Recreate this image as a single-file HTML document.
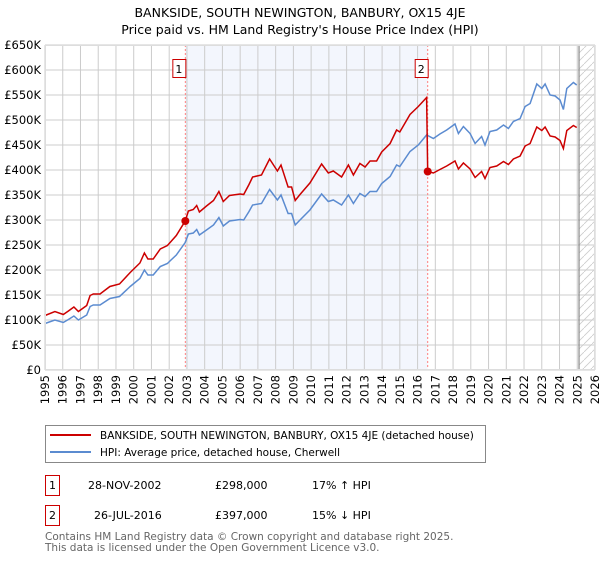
<!DOCTYPE html>
<html><head><meta charset="utf-8"><style>
body{margin:0;background:#fff;font-family:"DejaVu Sans","Liberation Sans",sans-serif;}
svg text{font-family:"DejaVu Sans","Liberation Sans",sans-serif;}
</style></head><body>
<svg id="chart" width="600" height="560" viewBox="0 0 600 560" xmlns="http://www.w3.org/2000/svg">
<defs><pattern id="hatch" width="8" height="8" patternUnits="userSpaceOnUse"><path d="M0 8 L8 0" stroke="#ccc" stroke-width="0.8"/></pattern></defs>
<text x="300" y="17" text-anchor="middle" font-size="12.5">BANKSIDE, SOUTH NEWINGTON, BANBURY, OX15 4JE</text>
<text x="300" y="34" text-anchor="middle" font-size="12.5">Price paid vs. HM Land Registry's House Price Index (HPI)</text>
<g id="plot"></g>
<rect x="45.5" y="425.5" width="440" height="37" fill="#fff" stroke="#888"/>
<line x1="50" y1="435" x2="91" y2="435" stroke="#cc0000" stroke-width="2"/>
<text x="100" y="439" font-size="10.5">BANKSIDE, SOUTH NEWINGTON, BANBURY, OX15 4JE (detached house)</text>
<line x1="50" y1="452" x2="91" y2="452" stroke="#5b8bd0" stroke-width="2"/>
<text x="100" y="456" font-size="10.5">HPI: Average price, detached house, Cherwell</text>
<g font-size="11">
<rect x="45.5" y="475.5" width="14" height="20" fill="#fff" stroke="#cc0000"/>
<text x="52.5" y="489" text-anchor="middle">1</text>
<text x="88" y="489">28-NOV-2002</text>
<text x="215" y="489">£298,000</text>
<text x="312" y="489">17% ↑ HPI</text>
</g>
<g font-size="11">
<rect x="45.5" y="505.5" width="14" height="20" fill="#fff" stroke="#cc0000"/>
<text x="52.5" y="519" text-anchor="middle">2</text>
<text x="94" y="519">26-JUL-2016</text>
<text x="215" y="519">£397,000</text>
<text x="312" y="519">15% ↓ HPI</text>
</g>
<text x="45" y="540" font-size="10.5" fill="#666">Contains HM Land Registry data © Crown copyright and database right 2025.</text>
<text x="45" y="551" font-size="10.5" fill="#666">This data is licensed under the Open Government Licence v3.0.</text>
</svg>
<script>
const hpiYears=[1995.0,1995.56,1996.03,1996.32,1996.63,1996.88,1997.35,1997.54,1997.72,1998.1,1998.66,1999.2,1999.8,2000.35,2000.6,2000.8,2001.1,2001.5,2001.9,2002.1,2002.4,2002.9,2003.08,2003.36,2003.55,2003.7,2004.1,2004.5,2004.8,2005.05,2005.4,2006.0,2006.2,2006.5,2006.7,2007.2,2007.66,2008.1,2008.3,2008.7,2008.9,2009.1,2009.37,2009.93,2010.59,2010.97,2011.25,2011.72,2012.1,2012.38,2012.75,2013.04,2013.32,2013.69,2013.98,2014.45,2014.82,2015.0,2015.57,2016.04,2016.51,2016.89,2017.26,2017.64,2018.11,2018.3,2018.58,2018.96,2019.24,2019.61,2019.8,2020.08,2020.46,2020.84,2021.12,2021.4,2021.78,2022.06,2022.34,2022.72,2023.0,2023.19,2023.47,2023.75,2024.03,2024.22,2024.41,2024.78,2024.97];
const hpiValues=[93,100,95,101,108,100,110,127,130,130,143,147,167,183,200,190,190,207,213,220,230,255,272,274,281,270,280,290,305,288,298,301,300,317,330,333,361,340,350,313,313,290,300,320,352,337,340,330,350,333,353,347,357,357,373,387,410,407,437,450,470,463,472,480,492,473,487,473,453,467,450,477,480,490,483,497,503,527,533,572,563,572,550,548,540,521,563,575,570];
const priceYears=[1995.0,1995.56,1996.03,1996.32,1996.63,1996.88,1997.35,1997.54,1997.72,1998.1,1998.66,1999.2,1999.8,2000.35,2000.6,2000.8,2001.1,2001.5,2001.9,2002.1,2002.4,2002.9,2003.08,2003.36,2003.55,2003.7,2004.1,2004.5,2004.8,2005.05,2005.4,2006.0,2006.2,2006.5,2006.7,2007.2,2007.66,2008.1,2008.3,2008.7,2008.9,2009.1,2009.37,2009.93,2010.59,2010.97,2011.25,2011.72,2012.1,2012.38,2012.75,2013.04,2013.32,2013.69,2013.98,2014.45,2014.82,2015.0,2015.57,2016.04,2016.51,2016.57,2016.89,2017.26,2017.64,2018.11,2018.3,2018.58,2018.96,2019.24,2019.61,2019.8,2020.08,2020.46,2020.84,2021.12,2021.4,2021.78,2022.06,2022.34,2022.72,2023.0,2023.19,2023.47,2023.75,2024.03,2024.22,2024.41,2024.78,2024.97];
const priceValues=[109,117,111,118,126,117,129,149,152,152,167,172,195,214,234,222,222,242,249,257,269,298,318,321,329,316,328,339,357,337,349,352,351,371,386,390,422,398,410,366,366,339,351,374,412,394,398,386,410,390,413,406,418,418,436,453,480,476,511,527,545,397,394,401,408,418,402,414,402,385,397,383,405,408,417,411,422,428,448,453,486,479,486,468,466,459,443,479,489,485];
const saleYears=[2002.91,2016.57];
const saleValues=[298,397];
const saleLabels=["1","2"];
const yTicks=[0,50,100,150,200,250,300,350,400,450,500,550,600,650];
const yTickLabels=["£0","£50K","£100K","£150K","£200K","£250K","£300K","£350K","£400K","£450K","£500K","£550K","£600K","£650K"];
const xTicks=[1995,1996,1997,1998,1999,2000,2001,2002,2003,2004,2005,2006,2007,2008,2009,2010,2011,2012,2013,2014,2015,2016,2017,2018,2019,2020,2021,2022,2023,2024,2025,2026];
const dataEndYear=2025.1;

const L=45,R=595,T=45,B=370,X0=1995,X1=2026,YMAX=650;
function xs(y){return L+(y-X0)/(X1-X0)*(R-L);}
function ys(v){return B-v/YMAX*(B-T);}
const NS="http://www.w3.org/2000/svg";
const g=document.getElementById('plot');
function mk(tag,attrs){const e=document.createElementNS(NS,tag);for(const k in attrs)e.setAttribute(k,attrs[k]);g.appendChild(e);return e;}

let e=mk('rect',{x:xs(saleYears[0]),y:T,width:xs(saleYears[1])-xs(saleYears[0]),height:B-T,fill:'#f3f6fd'});


e=mk('rect',{x:xs(dataEndYear),y:T,width:R-xs(dataEndYear),height:B-T,fill:'url(#hatch)'});



yTicks.forEach((v,i)=>{
  let l=mk('line',{x1:L,x2:R,y1:ys(v),y2:ys(v),stroke:'#ccc','stroke-width':1});
  
  
  let t=mk('text',{x:L-4,y:ys(v)+4,'text-anchor':'end','font-size':11.5});
  t.textContent=yTickLabels[i];
  
  
});
xTicks.forEach(yr=>{
  let l=mk('line',{x1:xs(yr),x2:xs(yr),y1:T,y2:B,stroke:'#ccc','stroke-width':1});
  
  
  let t=mk('text',{x:0,y:0,'text-anchor':'end','font-size':11.5,transform:`translate(${xs(yr)+4},${B+5}) rotate(-90)`});
  t.textContent=yr;
  
  
});
e=mk('line',{x1:xs(dataEndYear),x2:xs(dataEndYear),y1:T,y2:B,stroke:'#888','stroke-width':1.2});



saleYears.forEach((yr,i)=>{
  let l=mk('line',{x1:xs(yr),x2:xs(yr),y1:T,y2:B,stroke:'#ff8080','stroke-width':1,'stroke-dasharray':'2,2'});
  
  
});

function path(xa,va){return xa.map((x,i)=>(i?'L':'M')+xs(x).toFixed(1)+' '+ys(va[i]).toFixed(1)).join(' ');}
e=mk('path',{d:path(hpiYears,hpiValues),fill:'none',stroke:'#5b8bd0','stroke-width':1.5});


e=mk('path',{d:path(priceYears,priceValues),fill:'none',stroke:'#cc0000','stroke-width':1.5});



saleYears.forEach((yr,i)=>{
  let c=mk('circle',{cx:xs(yr),cy:ys(saleValues[i]),r:4,fill:'#cc0000'});
  
  
  let bx=xs(yr)-9;
  let r=mk('rect',{x:bx+0.5-4,y:59.5,width:13,height:18,fill:'#fff',stroke:'#cc0000'});
  
  
  let t=mk('text',{x:bx+2.5,y:73,'text-anchor':'middle','font-size':11});
  t.textContent=saleLabels[i];
  
  
});
e=mk('rect',{x:L+0.5,y:T+0.5,width:R-L-1,height:B-T-1,fill:'none',stroke:'#ddd'});


</script>
</body></html>
